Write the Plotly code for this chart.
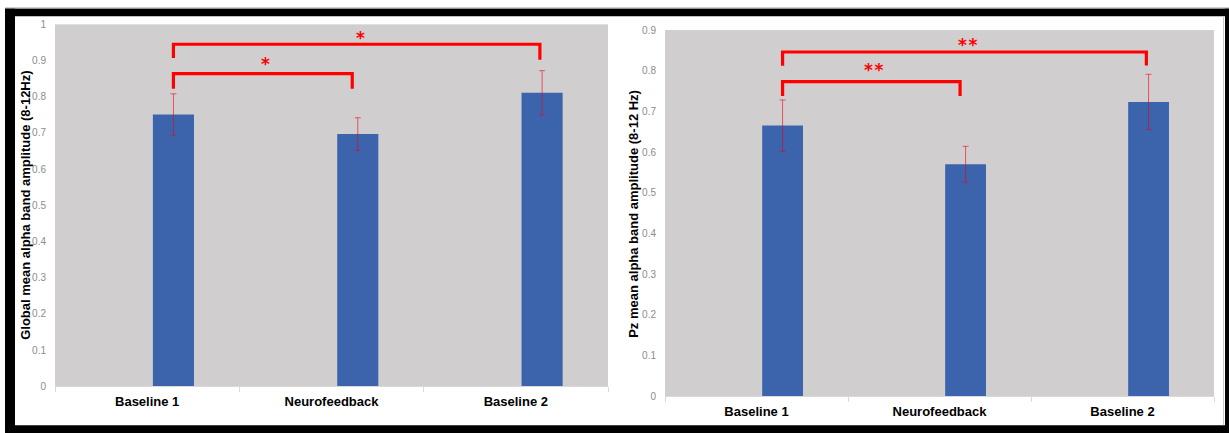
import plotly.graph_objects as go

W, H = 1229, 433

# ---------------- data ----------------
categories = ["Baseline 1", "Neurofeedback", "Baseline 2"]

global_values = [0.751, 0.697, 0.811]
global_errors = [0.057, 0.045, 0.061]

pz_values = [0.665, 0.570, 0.723]
pz_errors = [0.063, 0.044, 0.068]

global_title = "Global mean alpha band amplitude (8-12Hz)"
pz_title = "Pz mean alpha band amplitude (8-12 Hz)"

# significance brackets: from, to, bar height, left/right leg ends, label, label height
global_from = ["Baseline 1", "Baseline 1"]
global_to = ["Neurofeedback", "Baseline 2"]
global_bar_y = [0.864, 0.945]
global_leg_left = [0.822, 0.907]
global_leg_right = [0.822, 0.902]
global_labels = ["*", "*"]
global_label_y = [0.895, 0.968]

pz_from = ["Baseline 1", "Baseline 1"]
pz_to = ["Neurofeedback", "Baseline 2"]
pz_bar_y = [0.773, 0.846]
pz_leg_left = [0.738, 0.812]
pz_leg_right = [0.738, 0.813]
pz_labels = ["*\u200a*", "*\u200a*"]
pz_label_y = [0.807, 0.868]

# ---------------- style ----------------
BAR_COLOR = "#3c64ad"
PLOT_BG = "#d0cece"
ERR_COLOR = "rgba(240,0,20,0.6)"
RED = "#ff0000"
BAR_OFFSET = 0.031
BAR_WIDTH = 0.223
BAR_SHIFT = BAR_OFFSET + BAR_WIDTH / 2
RIGHT_INSET = [0.03, 0.012]
LABEL_XSHIFT = [2.5, 4]

# vertical calibration of the page photograph
Y_OFF, Y_SCALE = 4.6, 0.975


def px_x(x):
    return x / W


def px_y(y):
    return 1 - ((y - Y_OFF) / Y_SCALE) / H


fig = go.Figure()

panels = [
    dict(values=global_values, errors=global_errors, xa="x", ya="y",
         frm=global_from, to=global_to, bar_y=global_bar_y,
         legl=global_leg_left, legr=global_leg_right,
         labels=global_labels, label_y=global_label_y),
    dict(values=pz_values, errors=pz_errors, xa="x2", ya="y2",
         frm=pz_from, to=pz_to, bar_y=pz_bar_y,
         legl=pz_leg_left, legr=pz_leg_right,
         labels=pz_labels, label_y=pz_label_y),
]

shapes = []
annotations = []

for p in panels:
    fig.add_trace(go.Bar(
        x=categories, y=p["values"], xaxis=p["xa"], yaxis=p["ya"],
        marker=dict(color=BAR_COLOR, line=dict(width=0)),
        width=BAR_WIDTH, offset=BAR_OFFSET,
        error_y=dict(type="data", array=p["errors"], visible=True,
                     color=ERR_COLOR, thickness=1, width=3),
        showlegend=False, hoverinfo="skip",
    ))
    for i in range(len(p["frm"])):
        x0 = categories.index(p["frm"][i]) + BAR_SHIFT
        x1 = categories.index(p["to"][i]) + BAR_SHIFT - RIGHT_INSET[i]
        path = (f"M {x0},{p['legl'][i]} L {x0},{p['bar_y'][i]} "
                f"L {x1},{p['bar_y'][i]} L {x1},{p['legr'][i]}")
        shapes.append(dict(type="path", path=path, xref=p["xa"], yref=p["ya"],
                           line=dict(color=RED, width=3.2)))
        annotations.append(dict(
            x=(x0 + x1) / 2, y=p["label_y"][i], xref=p["xa"], yref=p["ya"],
            text=p["labels"][i], showarrow=False, xanchor="center", yanchor="middle",
            yshift=-2, xshift=LABEL_XSHIFT[i],
            font=dict(family="DejaVu Sans", size=17, color=RED, weight="bold"),
        ))

# black frame around the figure
frame_rects = [
    (5, 7, 15, 445),      # left
    (5, 7, 1229, 15),     # top
    (1225, 7, 1229, 445),  # right
    (5, 425, 1229, 445),  # bottom
]
for (xa0, ya0, xa1, ya1) in frame_rects:
    shapes.append(dict(type="rect", xref="paper", yref="paper",
                       x0=px_x(xa0), x1=px_x(xa1), y0=px_y(ya1), y1=px_y(ya0),
                       fillcolor="black", line=dict(width=0), layer="below"))
shapes.append(dict(type="line", xref="paper", yref="paper",
                   x0=px_x(5), x1=px_x(1229), y0=px_y(6.5), y1=px_y(6.5),
                   line=dict(color="#b0b0b0", width=1), layer="below"))
shapes.append(dict(type="line", xref="paper", yref="paper",
                   x0=px_x(1223.5), x1=px_x(1223.5), y0=px_y(425), y1=px_y(15),
                   line=dict(color="#c8c8c8", width=1), layer="below"))

# y-axis titles
annotations.append(dict(x=px_x(26), y=px_y(205), xref="paper", yref="paper",
                        text=global_title, textangle=-90, showarrow=False,
                        xanchor="center", yanchor="middle",
                        font=dict(family="Liberation Sans", size=13, color="black",
                                  weight="bold")))
annotations.append(dict(x=px_x(634), y=px_y(213), xref="paper", yref="paper",
                        text=pz_title, textangle=-90, showarrow=False,
                        xanchor="center", yanchor="middle",
                        font=dict(family="Liberation Sans", size=13, color="black",
                                  weight="bold")))

xaxis_common = dict(
    type="category", showgrid=False, zeroline=False,
    showline=True, linecolor="#d9d9d9", linewidth=1,
    ticks="outside", tickson="boundaries", ticklen=5, tickcolor="#d9d9d9",
    tickfont=dict(family="Liberation Sans", size=13, color="black", weight="bold"),
    ticklabelstandoff=3, fixedrange=True,
)
yaxis_common = dict(
    showgrid=False, zeroline=False, showline=False, ticks="",
    tickfont=dict(family="Liberation Sans", size=10, color="#8c8c8c"),
    dtick=0.1, ticklabelstandoff=8, fixedrange=True,
)

fig.update_layout(
    width=W, height=H,
    margin=dict(l=0, r=0, t=0, b=0),
    paper_bgcolor="white",
    plot_bgcolor=PLOT_BG,
    xaxis=dict(domain=[px_x(55), px_x(608)], anchor="y", **xaxis_common),
    yaxis=dict(domain=[px_y(386), px_y(23)], range=[0, 1], anchor="x", **yaxis_common),
    xaxis2=dict(domain=[px_x(665), px_x(1214)], anchor="y2", **xaxis_common),
    yaxis2=dict(domain=[px_y(395.7), px_y(28.7)], range=[0, 0.9], anchor="x2", **yaxis_common),
    shapes=shapes,
    annotations=annotations,
    showlegend=False,
)

post_js = (
    "document.documentElement.style.background="
    "'linear-gradient(to bottom, white 0, white 50%, black 50%, black 100%)';"
    "document.body.style.margin='0';"
    "document.body.style.padding='0';"
    "document.body.style.background='transparent';"
)

fig.write_html(
    "out.html",
    config={"displayModeBar": False},
    post_script=post_js,
)
